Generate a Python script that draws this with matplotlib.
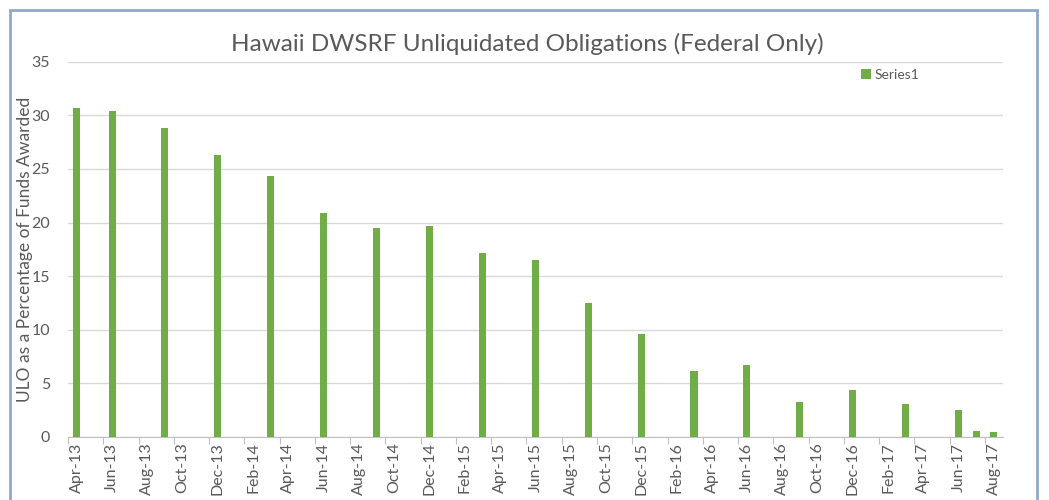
import pandas as pd
import matplotlib.pyplot as plt
from matplotlib.patches import Rectangle

# Report months and ULO values (% of funds awarded)
months = ['2013-04', '2013-06', '2013-09', '2013-12', '2014-03', '2014-06',
          '2014-09', '2014-12', '2015-03', '2015-06', '2015-09', '2015-12',
          '2016-03', '2016-06', '2016-09', '2016-12', '2017-03', '2017-06',
          '2017-07', '2017-08']
ulo = [30.7, 30.4, 28.8, 26.3, 24.3, 20.9, 19.5, 19.7, 17.2, 16.5, 12.5, 9.6,
       6.2, 6.7, 3.3, 4.4, 3.1, 2.5, 0.6, 0.5]

start = pd.Period('2013-04', freq='M')
end = pd.Period('2017-08', freq='M')

# month index relative to start of axis
pos = [(pd.Period(m, freq='M') - start).n for m in months]
n_months = (end - start).n + 1
axis_months = pd.period_range(start, end, freq='M')
tick_idx = list(range(0, n_months, 2))
tick_labels = [axis_months[i].strftime('%b-%y') for i in tick_idx]

grey = '#595959'
plt.rcParams['font.family'] = ['Lato', 'DejaVu Sans']

fig = plt.figure(figsize=(10.49, 5.0), dpi=100)
ax = fig.add_axes([0.0648, 0.126, 0.891, 0.7506])

ax.bar(pos, ulo, width=0.4, color='#70AD47', label='Series1', zorder=3)

ax.set_xlim(-0.5, n_months - 0.5)
ax.set_ylim(0, 35)
ax.set_yticks(range(0, 36, 5))
ax.yaxis.grid(True, color='#d9d9d9', linewidth=1)
ax.set_axisbelow(True)

# tick marks between month slots, labels in slot centres
ax.set_xticks([i - 0.5 for i in tick_idx])
ax.set_xticklabels([])
ax.set_xticks(tick_idx, minor=True)
ax.set_xticklabels(tick_labels, minor=True, rotation=90, fontsize=11.5, color=grey)
ax.tick_params(axis='x', which='major', length=5, color='#bfbfbf')
ax.tick_params(axis='x', which='minor', length=0, pad=4)
ax.tick_params(axis='y', length=0, labelsize=11.5, labelcolor=grey, pad=13)

for s in ['top', 'right', 'left']:
    ax.spines[s].set_visible(False)
ax.spines['bottom'].set_color('#bfbfbf')

ax.set_ylabel('ULO as a Percentage of Funds Awarded', fontsize=12.5, color=grey, labelpad=-1)
fig.text(0.503, 0.912, 'Hawaii DWSRF Unliquidated Obligations (Federal Only)',
         ha='center', va='center', fontsize=17.5, color=grey)

leg = ax.legend(loc='upper left', bbox_to_anchor=(0.835, 1.015), frameon=False,
                fontsize=10, labelcolor=grey, handlelength=0.7, handleheight=0.7,
                handletextpad=0.3)

fig.patches.append(Rectangle((10 / 1049, -0.1), 1027 / 1049, 1.08,
                             transform=fig.transFigure, fill=False,
                             edgecolor='#8faac6', linewidth=2))

fig.savefig('out.png', dpi=100)
